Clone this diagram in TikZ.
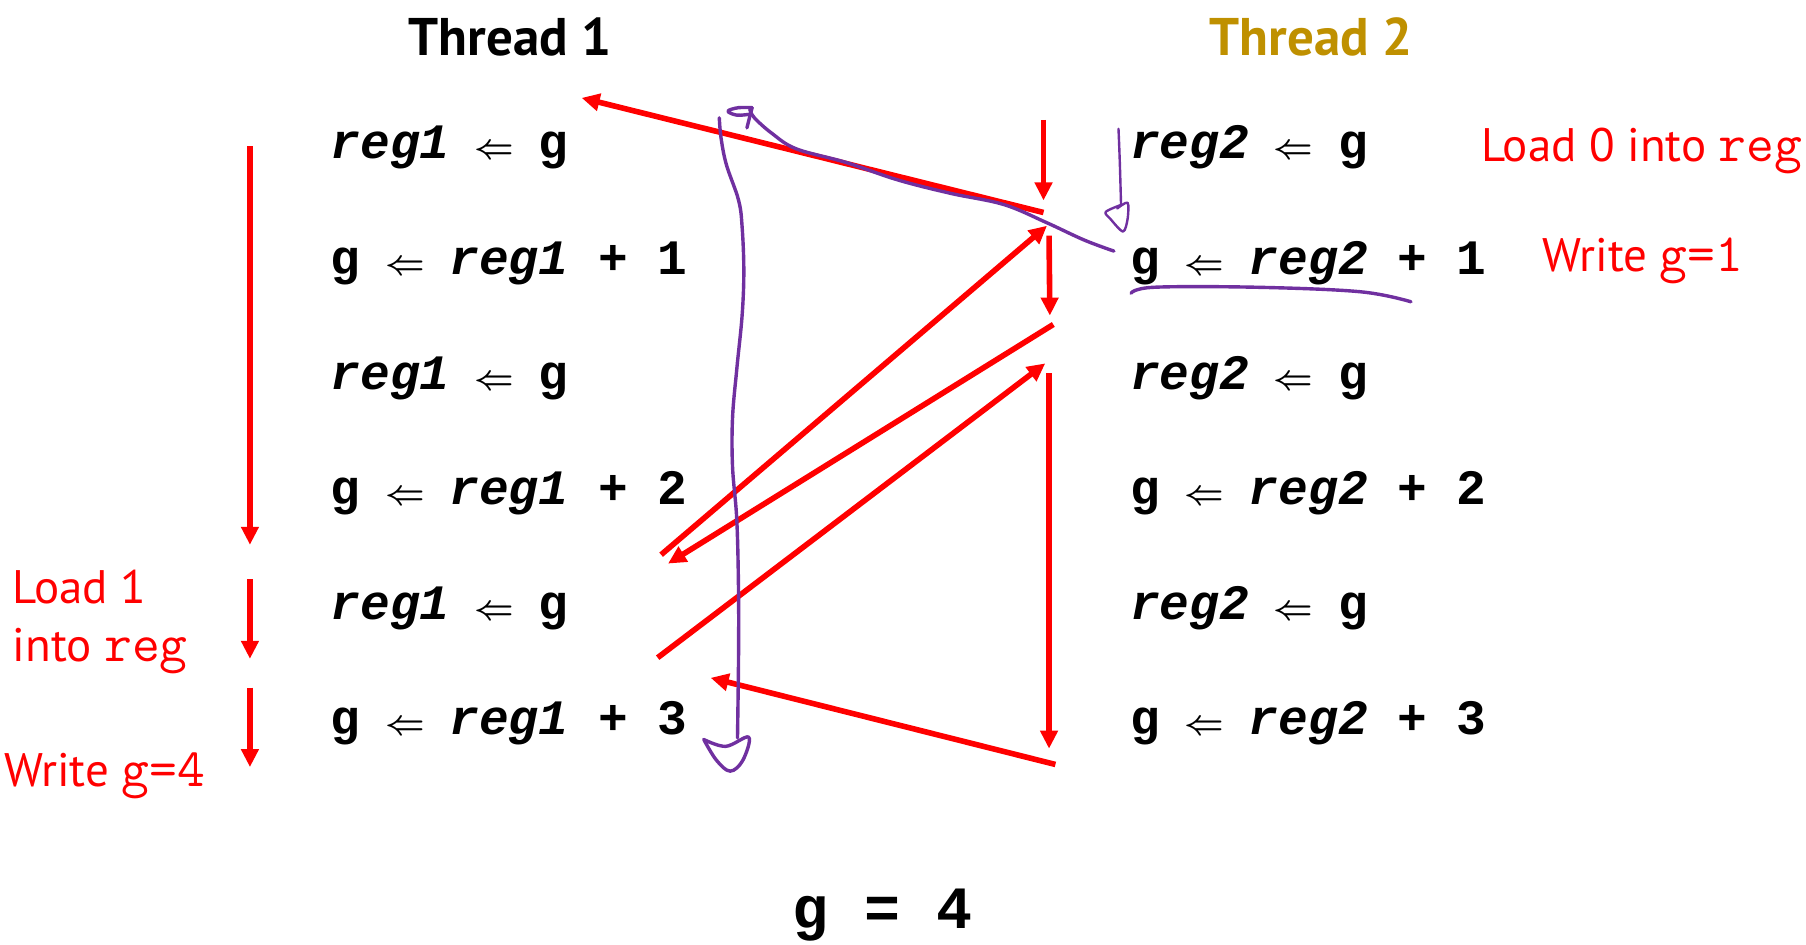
\documentclass[tikz,border=0pt]{standalone}
\usepackage{fontspec}
\usepackage{graphicx}
\setmainfont{PT Sans}
\newfontfamily\codefont{Liberation Mono}
\usetikzlibrary{arrows.meta}
\definecolor{hotred}{RGB}{255,0,0}
\definecolor{inkpurple}{RGB}{112,48,160}
\definecolor{threadgold}{RGB}{191,144,0}
\newcommand\Larr{\makebox[0.6em][c]{\resizebox{0.8em}{!}{\boldmath$\Leftarrow$}}}
\newcommand\rr[1]{\textit{reg#1}}
\newcommand\mono[1]{{\ttfamily\fontsize{54}{60}\selectfont #1}}
\begin{document}
\begin{tikzpicture}[x=1.1518pt,y=-1.1518pt,
  code/.style={font=\fontsize{49.5}{55}\selectfont\codefont\bfseries, anchor=base west, inner sep=0pt},
  head/.style={font=\fontsize{53}{60}\selectfont\bfseries, anchor=base, inner sep=0pt},
  note/.style={font=\fontsize{47}{52}\selectfont, text=hotred, anchor=base west, inner sep=0pt},
  redarrow/.style={draw=hotred, line width=5.6pt, -{Triangle[length=18pt,width=17pt]}},
  ink/.style={draw=inkpurple, line width=3.4pt, line cap=round, line join=round},
  thinink/.style={draw=inkpurple, line width=2.4pt, line cap=round, line join=round},
]
\fill[white] (0,0) rectangle (1568,820.45);
\useasboundingbox (0,0) rectangle (1568,820.45);

% headings
\node[head] (t1) at (443,47.8) {Thread 1};
\node[head, text=threadgold] (t2) at (1138.3,47.8) {Thread 2};

% thread 1 code
\node[code] (l1) at (287,138) {\rr1 \Larr{} g};
\node[code] (l2) at (287,238) {g \Larr{} \rr1 + 1};
\node[code] (l3) at (287,338) {\rr1 \Larr{} g};
\node[code] (l4) at (287,438) {g \Larr{} \rr1 + 2};
\node[code] (l5) at (287,538) {\rr1 \Larr{} g};
\node[code] (l6) at (287,638) {g \Larr{} \rr1 + 3};

% thread 2 code
\node[code] (r1) at (981,138) {\rr2 \Larr{} g};
\node[code] (r2) at (981,238) {g \Larr{} \rr2 + 1};
\node[code] (r3) at (981,338) {\rr2 \Larr{} g};
\node[code] (r4) at (981,438) {g \Larr{} \rr2 + 2};
\node[code] (r5) at (981,538) {\rr2 \Larr{} g};
\node[code] (r6) at (981,638) {g \Larr{} \rr2 + 3};

% result
\node[font=\fontsize{60}{66}\selectfont\codefont\bfseries, anchor=base, inner sep=0pt] (res) at (766,805.7) {g = 4};

% red notes
\node[note] (n1) at (1286,139.8) {Load 0 into \mono{reg}};
\node[note] (n2) at (1339,236) {Write \mono{g=1}};
\node[note] (n3) at (11,523.6) {Load 1};
\node[note] (n4) at (11,574.5) {into \mono{reg}};
\node[note] (n5) at (3.5,683) {Write \mono{g=4}};

% red arrow end points
\coordinate (a1s) at (217,127);   \coordinate (a1e) at (217,473);
\coordinate (a2s) at (217,503);   \coordinate (a2e) at (217,572);
\coordinate (a3s) at (217,597);   \coordinate (a3e) at (217,666);
\coordinate (a4s) at (906,184.5); \coordinate (a4e) at (505,85);
\coordinate (a5s) at (906,104);   \coordinate (a5e) at (906,174);
\coordinate (a6s) at (574,481.6); \coordinate (a6e) at (909,196);
\coordinate (a7s) at (910.8,204.5); \coordinate (a7e) at (911.5,274);
\coordinate (a8s) at (914.5,281.7); \coordinate (a8e) at (580,489.3);
\coordinate (a9s) at (571,571);   \coordinate (a9e) at (907.5,315.5);
\coordinate (a10s) at (910.8,324); \coordinate (a10e) at (910.8,650);
\coordinate (a11s) at (916.3,663.7); \coordinate (a11e) at (617,588.5);

\foreach \i in {1,...,11} {\draw[redarrow] (a\i s) -- (a\i e);}

% purple ink: long vertical wavy stroke
\draw[ink] plot[smooth, tension=0.6] coordinates {(624.5,102.3) (626,119.6) (630.6,142.8) (641.2,173.7) (644.3,196.8) (645.8,235.4) (644.3,274) (639.7,320.3) (636,362.8) (636,405.2) (639.7,451.5) (641.2,513.2) (641.2,571.1) (640.3,640.6)};
\draw[ink] plot[smooth, tension=0.6] coordinates {(611,642) (630,648) (650,640) (645,660) (634,669.5) (622,660) (611,642)};

% purple ink: top curve with head
\draw[ink] plot[smooth, tension=0.6] coordinates {(967.1,218) (941.3,208.4) (907.8,192.9) (871.2,177.5) (825.5,167.9) (779.8,156.3) (734.1,140.9) (691.5,129.3) (670.2,115.8) (655,102.3) (651,95)};
\draw[ink] plot[smooth, tension=0.5] coordinates {(648.5,111) (651,101) (653,93.5)};
\draw[ink] plot[smooth, tension=0.6] coordinates {(653,93.5) (641,93.5) (632,96.5) (640,100) (652,99)};

% purple ink: small arrow near thread 2
\draw[thinink] plot[smooth, tension=0.6] coordinates {(971.1,111.9) (972.2,140) (973.3,177.5)};
\draw[thinink] plot[smooth, tension=0.5] coordinates {(973,178) (960,184) (964,190) (975,201) (979,190) (979,176) (970,181)};

% purple ink: underline
\draw[ink] plot[smooth, tension=0.6] coordinates {(982,254.6) (1002,249.4) (1091,249.4) (1181,253.3) (1225,262)};
\end{tikzpicture}
\end{document}
